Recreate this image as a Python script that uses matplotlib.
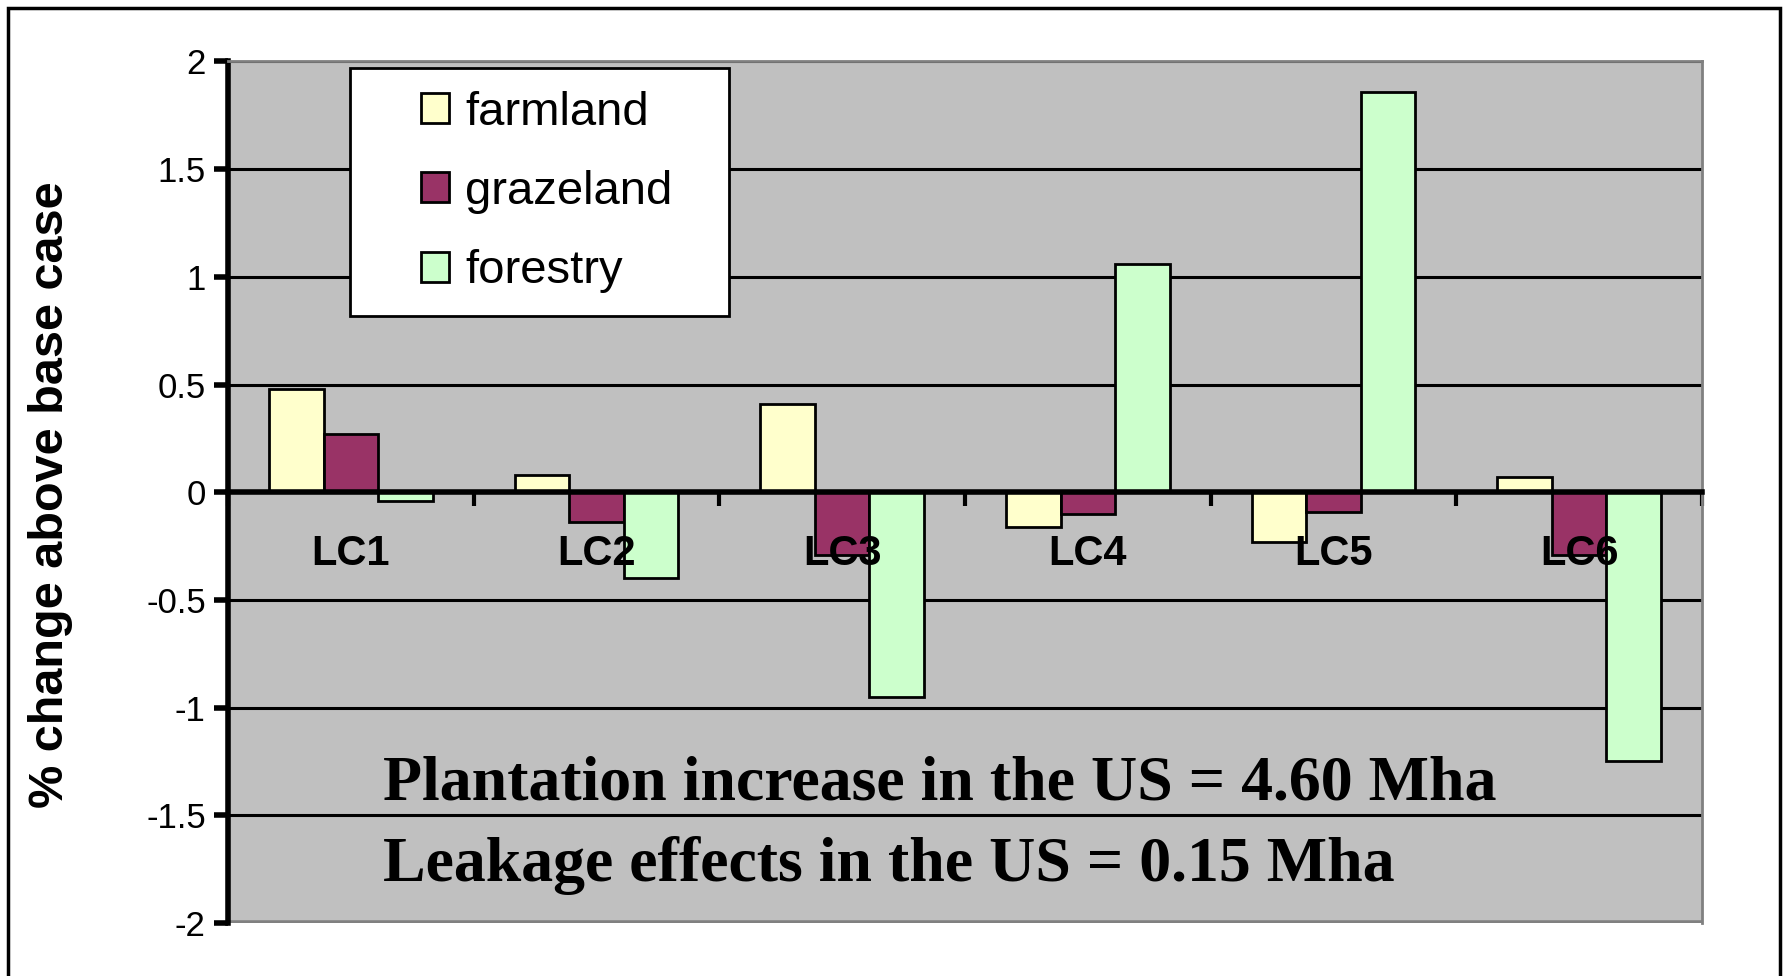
import numpy as np
import matplotlib.pyplot as plt
from matplotlib.patches import Rectangle
from matplotlib.ticker import FuncFormatter

categories = ["LC1", "LC2", "LC3", "LC4", "LC5", "LC6"]
farmland = [0.48, 0.08, 0.41, -0.16, -0.23, 0.07]
grazeland = [0.27, -0.14, -0.29, -0.10, -0.09, -0.29]
forestry = [-0.04, -0.40, -0.95, 1.06, 1.86, -1.25]
series = ["farmland", "grazeland", "forestry"]
colors = ["#FFFFCC", "#993366", "#CCFFCC"]
notes = ["Plantation increase in the US = 4.60 Mha",
         "Leakage effects in the US = 0.15 Mha"]

plt.rcParams['font.family'] = ['Liberation Sans', 'DejaVu Sans']

fig = plt.figure(figsize=(17.87, 9.76), dpi=100)
ax = fig.add_axes([0.1276, 0.0543, 0.9524 - 0.1276, 0.937 - 0.0543])
ax.set_facecolor("#C0C0C0")

x = np.arange(len(categories))
w = 1 / 4.5
for i, (vals, name, c) in enumerate(zip([farmland, grazeland, forestry], series, colors)):
    ax.bar(x + (i - 1) * w, vals, w, color=c, edgecolor="black", linewidth=2,
           label=name, zorder=3)

ax.set_xlim(-0.5, len(categories) - 0.5)
ax.set_ylim(-2, 2)
ax.set_yticks(np.arange(-2, 2.01, 0.5))
ax.yaxis.set_major_formatter(FuncFormatter(lambda v, p: "%g" % v))
ax.tick_params(axis="y", labelsize=25, length=10, width=4, direction="out", pad=6)
ax.yaxis.grid(True, color="black", linewidth=2.2)
ax.set_axisbelow(True)

# category axis sits on zero, ticks between the groups
ax.spines["bottom"].set_position(("data", 0))
ax.spines["bottom"].set_linewidth(4)
ax.spines["bottom"].set_zorder(4)
ax.set_xticks(np.arange(-0.5, len(categories), 1.0))
ax.set_xticklabels([])
ax.tick_params(axis="x", length=10, width=3, direction="out")
ax.spines["left"].set_linewidth(4)
for s in ["top", "right"]:
    ax.spines[s].set_color("#808080")
    ax.spines[s].set_linewidth(2)
ax.axhline(-2, color="#808080", linewidth=4, zorder=2)

for xi, lab in zip(x, categories):
    ax.text(xi, -0.285, lab, ha="center", va="center", fontsize=30,
            fontweight="bold", zorder=5)

for yv, txt in zip([-1.355, -1.735], notes):
    ax.text(0.13, yv, txt, ha="left", va="center", fontsize=46,
            fontweight="bold", family=["Liberation Serif", "DejaVu Serif"], zorder=5)

fig.text(51 / 1787, 0.4932, "% change above base case", rotation=90,
         ha="center", va="center", fontsize=35, fontweight="bold")

# legend box drawn separately so its size can be set directly
ax.add_patch(Rectangle((0.0828, 0.7046), 0.2572, 0.288, transform=ax.transAxes,
                       facecolor="white", edgecolor="black", linewidth=2, zorder=5))
leg = ax.legend(loc="center left", bbox_to_anchor=(0.1306, 0.8485), borderaxespad=0,
                fontsize=34, frameon=False, handlelength=0.6, handleheight=0.6,
                handletextpad=0.35, labelspacing=0.75, borderpad=0)
leg.set_zorder(6)

# outer chart frame
fig.patches.append(Rectangle((8 / 1787, -0.05), 1772 / 1787, 1.05 - 8 / 976,
                             transform=fig.transFigure, fill=False,
                             edgecolor="black", linewidth=2.5))

fig.savefig("out.png", dpi=100)
